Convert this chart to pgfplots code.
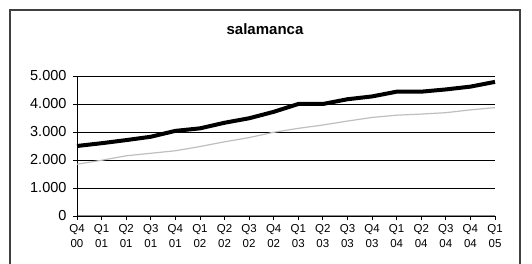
\documentclass[border=0pt]{standalone}
\usepackage{fontspec}
\setmainfont{Liberation Sans}
\usepackage{pgfplots}
\pgfplotsset{compat=1.18}
\begin{document}
\begin{tikzpicture}[x=1pt,y=1pt]
\useasboundingbox (0,0) rectangle (532,264);
\fill[white] (0,0) rectangle (532,264);
\draw[line width=2pt, black!75] (10,-10) rectangle (520,254);
\node[font=\bfseries\fontsize{15}{17}\selectfont] at (265,235) {salamanca};
\begin{axis}[
  at={(77pt,48pt)}, anchor=south west,
  width=418pt, height=140pt, scale only axis,
  xmin=0, xmax=17, ymin=0, ymax=5000,
  axis x line*=bottom, axis y line*=left,
  x axis line style={black!45, line width=1pt, -},
  y axis line style={black, line width=1pt, -},
  ytick={0,1000,2000,3000,4000,5000},
  yticklabels={0,1.000,2.000,3.000,4.000,5.000},
  xtick={0,...,17},
  xticklabels={{Q4\\00},{Q1\\01},{Q2\\01},{Q3\\01},{Q4\\01},{Q1\\02},{Q2\\02},{Q3\\02},{Q4\\02},{Q1\\03},{Q2\\03},{Q3\\03},{Q4\\03},{Q1\\04},{Q2\\04},{Q3\\04},{Q4\\04},{Q1\\05}},
  xticklabel style={align=center, font=\fontsize{11.5}{14.5}\selectfont, yshift=-1pt},
  yticklabel style={font=\fontsize{14.5}{15}\selectfont, xshift=-3pt},
  tick align=outside, major tick length=4pt,
  tick style={black, line width=0.8pt},
  ymajorgrids, major grid style={black, line width=0.8pt},
  clip=false,
]
\addplot[color=black!25, line width=1.2pt] coordinates {
(0,1850) (1,1990) (2,2150) (3,2240) (4,2330) (5,2480) (6,2650) (7,2800) (8,2990)
(9,3130) (10,3250) (11,3390) (12,3520) (13,3600) (14,3640) (15,3690) (16,3790) (17,3870)};
\addplot[color=black, line width=4pt] coordinates {
(0,2500) (1,2600) (2,2710) (3,2830) (4,3040) (5,3130) (6,3330) (7,3490) (8,3720)
(9,4000) (10,4000) (11,4170) (12,4270) (13,4440) (14,4440) (15,4520) (16,4620) (17,4790)};
\end{axis}
\end{tikzpicture}
\end{document}
